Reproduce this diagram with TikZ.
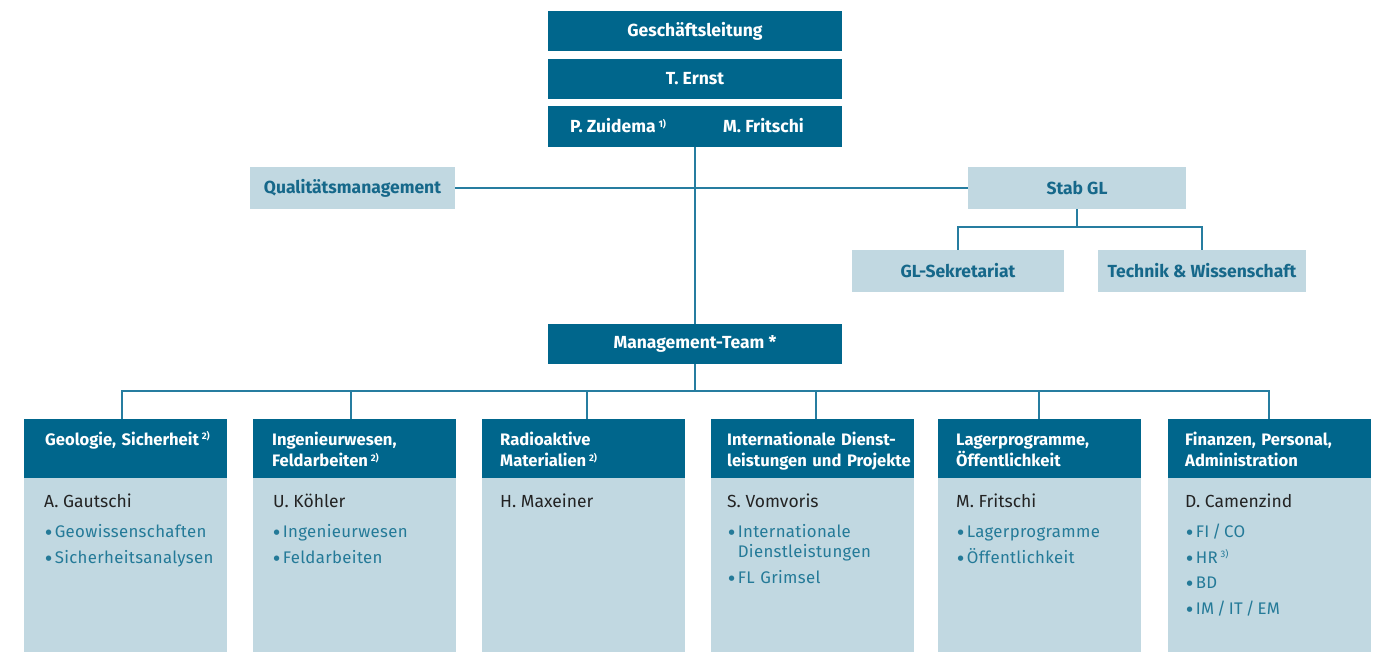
\documentclass[tikz,border=0pt]{standalone}
\usepackage{fontspec}
\setmainfont{Fira Sans}
\newfontfamily\trk[LetterSpace=2]{Fira Sans}
\newfontfamily\dejavufont{DejaVu Sans}
\usetikzlibrary{calc}
\definecolor{dk}{RGB}{0,102,140}
\definecolor{lt}{RGB}{193,216,225}
\definecolor{ln}{RGB}{38,125,160}
\definecolor{qt}{RGB}{22,104,138}
\definecolor{bt}{RGB}{36,122,152}
\definecolor{nm}{RGB}{35,35,35}
\newcommand{\fnm}[1]{\,{\fontsize{9.5}{9.5}\selectfont\raisebox{5.5pt}{#1}}}
\newcommand{\bul}{\hspace{1.5pt}{\dejavufont\fontsize{7}{7}\selectfont\raisebox{2.2pt}{●}}\hspace{3pt}}
\newcommand{\slsh}{\hspace{3pt}/\hspace{3pt}}
\begin{document}
\begin{tikzpicture}[x=1pt,y=-1pt,
  topbox/.style={fill=dk, text=white, font=\bfseries\fontsize{17.5}{19}\selectfont, inner sep=0pt, minimum width=294pt, minimum height=40pt},
  ltbox/.style={fill=lt, text=qt, font=\bfseries\fontsize{17.5}{19}\selectfont, inner sep=0pt, minimum height=42pt},
  hdr/.style={fill=dk, inner sep=0pt, anchor=north west, minimum width=203pt, minimum height=59pt},
  body/.style={fill=lt, inner sep=0pt, anchor=north west, minimum width=203pt, minimum height=174pt},
  htxt/.style={text=white, font=\bfseries\fontsize{16.6}{21.5}\selectfont, anchor=base west, inner sep=0pt, align=left, text width=190pt},
  ntxt/.style={text=nm, font=\fontsize{17.5}{20}\selectfont, anchor=base west, inner sep=0pt},
  btxt/.style={text=bt, font=\trk\fontsize{16.8}{20}\selectfont, anchor=base west, inner sep=0pt, align=left, text width=185pt},
  conn/.style={draw=ln, line width=2pt}
]
\useasboundingbox (0,0) rectangle (1379,652);

% top
\node[topbox] (gl) at (695,31) {Geschäftsleitung};
\node[topbox] (te) at (695,79) {T. Ernst};
\node[topbox, minimum height=41pt] (zf) at (695,126.5) {};
\node[text=white, font=\bfseries\fontsize{17.5}{19}\selectfont, anchor=base west, inner sep=0pt] (pz) at (570,133) {P. Zuidema\fnm{1)}};
\node[text=white, font=\bfseries\fontsize{17.5}{19}\selectfont, anchor=base west, inner sep=0pt] (mf) at (723,133) {M. Fritschi};

\node[ltbox, minimum width=205pt] (qm) at (352.5,188) {Qualitätsmanagement};
\node[ltbox, minimum width=218pt] (stab) at (1077,188) {Stab GL};
\node[ltbox, minimum width=212pt] (sek) at (958,271) {GL-Sekretariat};
\node[ltbox, minimum width=208pt] (tw) at (1202,271) {Technik \& Wissenschaft};

\node[topbox] (mt) at (695,344) {Management-Team *};

\coordinate (sj) at (1077,227);
\coordinate (bus) at (695,391);

% columns
\foreach \i/\x in {1/24,2/253,3/482,4/711,5/938,6/1168}{
  \node[body] (b\i) at (\x,478) {};
  \node[hdr] (h\i) at (\x,419) {};
}
% connector attachment points on the header tops
\foreach \i/\x in {1/122,2/351,3/587,4/816,5/1039,6/1269}{
  \coordinate (c\i) at (\x,419);
}

\node[htxt] (t1) at (45,445) {Geologie, Sicherheit\fnm{2)}};
\node[htxt] (t2) at (272,445) {Ingenieurwesen,\\Feldarbeiten\fnm{2)}};
\node[htxt] (t3) at (500,445) {Radioaktive\\Materialien\fnm{2)}};
\node[htxt] (t4) at (727,445) {Internationale Dienst-\\leistungen und Projekte};
\node[htxt] (t5) at (956,445) {Lagerprogramme,\\Öffentlichkeit};
\node[htxt] (t6) at (1185,445) {Finanzen, Personal,\\Administration};

\node[ntxt] (n1) at (44,507) {A. Gautschi};
\node[ntxt] (n2) at (273,507) {U. Köhler};
\node[ntxt] (n3) at (500,507) {H. Maxeiner};
\node[ntxt] (n4) at (727,507) {S. Vomvoris};
\node[ntxt] (n5) at (956,507) {M. Fritschi};
\node[ntxt] (n6) at (1185,507) {D. Camenzind};

\node[btxt] (i11) at (44,537) {\bul Geowissenschaften};
\node[btxt] (i12) at (44,563) {\bul Sicherheitsanalysen};
\node[btxt] (i21) at (272,537) {\bul Ingenieurwesen};
\node[btxt] (i22) at (272,563) {\bul Feldarbeiten};
\node[btxt] (i41) at (727,537) {\bul Internationale\\\hphantom{\bul}Dienstleistungen};
\node[btxt] (i42) at (727,583) {\bul FL Grimsel};
\node[btxt] (i51) at (956,537) {\bul Lagerprogramme};
\node[btxt] (i52) at (956,563) {\bul Öffentlichkeit};
\node[btxt] (i61) at (1185,537) {\bul FI\slsh CO};
\node[btxt] (i62) at (1185,563) {\bul HR\fnm{3)}};
\node[btxt] (i63) at (1185,588) {\bul BD};
\node[btxt] (i64) at (1185,614) {\bul IM\slsh IT\slsh EM};

% connectors
\draw[conn] (zf.south) -- (mt.north);
\draw[conn] (qm.east) -- (stab.west);
\draw[conn] (stab.south) -- (sj);
\draw[conn] (sek.north) |- (sj) -| (tw.north);
\draw[conn] (mt.south) -- (bus);
\draw[conn] (c1) |- (bus) -| (c6);
\foreach \i in {2,3,4,5}{
  \draw[conn] (c\i) -- (c\i |- bus);
}
\end{tikzpicture}
\end{document}
